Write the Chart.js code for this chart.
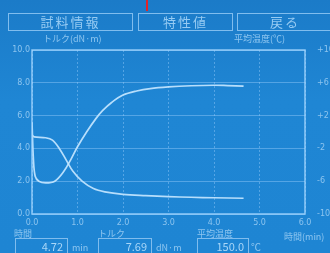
<!DOCTYPE html>
<html>
<head>
<meta charset="utf-8">
<script src="https://cdn.jsdelivr.net/npm/chart.js@4.4.0/dist/chart.umd.min.js"></script>
<style>
  html, body { margin: 0; padding: 0; }
  body { width: 330px; height: 253px; overflow: hidden; background: #fff; }
  #lcd {
    position: relative; width: 330px; height: 253px; overflow: hidden;
    background: linear-gradient(180deg, #1b7bc8 0%, #1f86d4 40%, #1e85d3 100%);
    font-family: "Noto Sans CJK JP", "Noto Sans", sans-serif;
    color: #8fc6f0; filter: blur(0.45px);
  }
  #lcd canvas { position: absolute; left: 0; top: 0; }
  .btn {
    position: absolute; top: 13px; height: 18px; border: 1px solid #80bdee;
    box-sizing: border-box; text-align: center; font-size: 13px; line-height: 16px;
    color: #96cbf3; letter-spacing: 2px;
  }
  .lbl { position: absolute; font-size: 9px; line-height: 10px; white-space: nowrap; }
  .box {
    position: absolute; top: 238px; height: 17px; border: 1px solid #80bdee;
    box-sizing: border-box; font-size: 11px; line-height: 15px; text-align: right;
    padding-right: 4px; color: #a8d6f8;
  }
  #marker { position: absolute; left: 146px; top: 0; width: 2px; height: 11px; background: #e0242a; }
</style>
</head>
<body>
<div id="lcd">
  <canvas id="chart" width="330" height="253"></canvas>
  <div id="marker"></div>
  <div class="btn" style="left:8px;width:125px;">試料情報</div>
  <div class="btn" style="left:138px;width:95px;">特性値</div>
  <div class="btn" style="left:237px;width:96px;">戻る</div>
  <div class="lbl" style="left:43px;top:34px;">トルク(dN·m)</div>
  <div class="lbl" style="left:234px;top:34px;">平均温度(℃)</div>
  <div class="lbl" style="left:14px;top:229px;">時間</div>
  <div class="lbl" style="left:98px;top:229px;">トルク</div>
  <div class="lbl" style="left:197px;top:229px;">平均温度</div>
  <div class="lbl" style="left:284px;top:232px;">時間(min)</div>
  <div class="box" style="left:15px;width:53px;" id="v1"></div>
  <div class="lbl" style="left:72px;top:243px;">min</div>
  <div class="box" style="left:98px;width:54px;" id="v2"></div>
  <div class="lbl" style="left:156px;top:243px;">dN·m</div>
  <div class="box" style="left:197px;width:52px;" id="v3"></div>
  <div class="lbl" style="left:251px;top:242px;font-size:10px;">℃</div>
</div>
<script>
// torque curve (S-shape cure curve), time in min
const torqueTime = [0.00, 0.03, 0.07, 0.15, 0.30, 0.50, 0.70, 0.85, 1.00, 1.20, 1.40, 1.55, 1.75, 2.00, 2.30, 2.60, 3.00, 3.50, 4.00, 4.30, 4.65];
const torqueVals = [5.6, 3.4, 2.3, 2.0, 1.9, 2.0, 2.6, 3.3, 4.1, 5.0, 5.8, 6.3, 6.8, 7.25, 7.5, 7.65, 7.75, 7.82, 7.85, 7.83, 7.8];

// second (decaying) curve
const decayTime = [0.00, 0.05, 0.30, 0.45, 0.60, 0.75, 0.90, 1.10, 1.35, 1.60, 2.00, 2.50, 3.00, 3.50, 4.00, 4.65];
const decayVals = [4.8, 4.7, 4.65, 4.5, 4.0, 3.3, 2.6, 2.0, 1.55, 1.35, 1.2, 1.12, 1.06, 1.02, 0.99, 0.96];

const xTicks = ["0.0", "1.0", "2.0", "3.0", "4.0", "5.0", "6.0"];
const yTicks = ["0.0", "2.0", "4.0", "6.0", "8.0", "10.0"];
const tempTicks = ["-10", "-6", "-2", "+2", "+6", "+10"];

const readout = { time: "4.72", torque: "7.69", temp: "150.0" };
document.getElementById("v1").textContent = readout.time;
document.getElementById("v2").textContent = readout.torque;
document.getElementById("v3").textContent = readout.temp;

const lineCol = "rgba(196,230,255,0.92)";
const gridCol = "rgba(150,205,250,0.45)";
const tickCol = "#8cc4ef";

const frame = {
  id: "frame",
  afterDraw(chart) {
    const a = chart.chartArea, c = chart.ctx;
    c.save();
    c.strokeStyle = "rgba(165,215,255,0.85)";
    c.lineWidth = 1.5;
    c.strokeRect(a.left, a.top, a.right - a.left, a.bottom - a.top);
    c.restore();
  }
};

new Chart(document.getElementById("chart"), {
  type: "line",
  data: {
    datasets: [
      {
        data: torqueTime.map((t, i) => ({ x: t, y: torqueVals[i] })),
        borderColor: lineCol, borderWidth: 1.7, pointRadius: 0, tension: 0.35, yAxisID: "y"
      },
      {
        data: decayTime.map((t, i) => ({ x: t, y: decayVals[i] })),
        borderColor: lineCol, borderWidth: 1.7, pointRadius: 0, tension: 0.35, yAxisID: "y"
      }
    ]
  },
  options: {
    responsive: false,
    animation: false,
    layout: { padding: { top: 50, bottom: 24, left: 0, right: 0 } },
    plugins: { legend: { display: false }, tooltip: { enabled: false } },
    scales: {
      x: {
        type: "linear", min: 0, max: 6,
        afterFit: s => { s.height = 15; },
        ticks: { stepSize: 1, color: tickCol, font: { size: 8, family: "DejaVu Sans" }, padding: 4,
                 callback: (v, i) => xTicks[i] },
        grid: { color: gridCol, drawTicks: false },
        border: { display: false, dash: [2, 2] }
      },
      y: {
        position: "left", min: 0, max: 10,
        afterFit: s => { s.width = 32; },
        ticks: { stepSize: 2, color: tickCol, font: { size: 8, family: "DejaVu Sans" }, padding: 2,
                 callback: (v, i) => yTicks[i] },
        grid: { color: gridCol, drawTicks: false },
        border: { display: false }
      },
      y2: {
        position: "right", min: 0, max: 10,
        afterFit: s => { s.width = 25; },
        ticks: { stepSize: 2, color: tickCol, font: { size: 8, family: "DejaVu Sans" }, padding: 4,
                 callback: (v, i) => tempTicks[i] },
        grid: { display: false },
        border: { display: false }
      }
    }
  },
  plugins: [frame]
});
</script>
</body>
</html>
